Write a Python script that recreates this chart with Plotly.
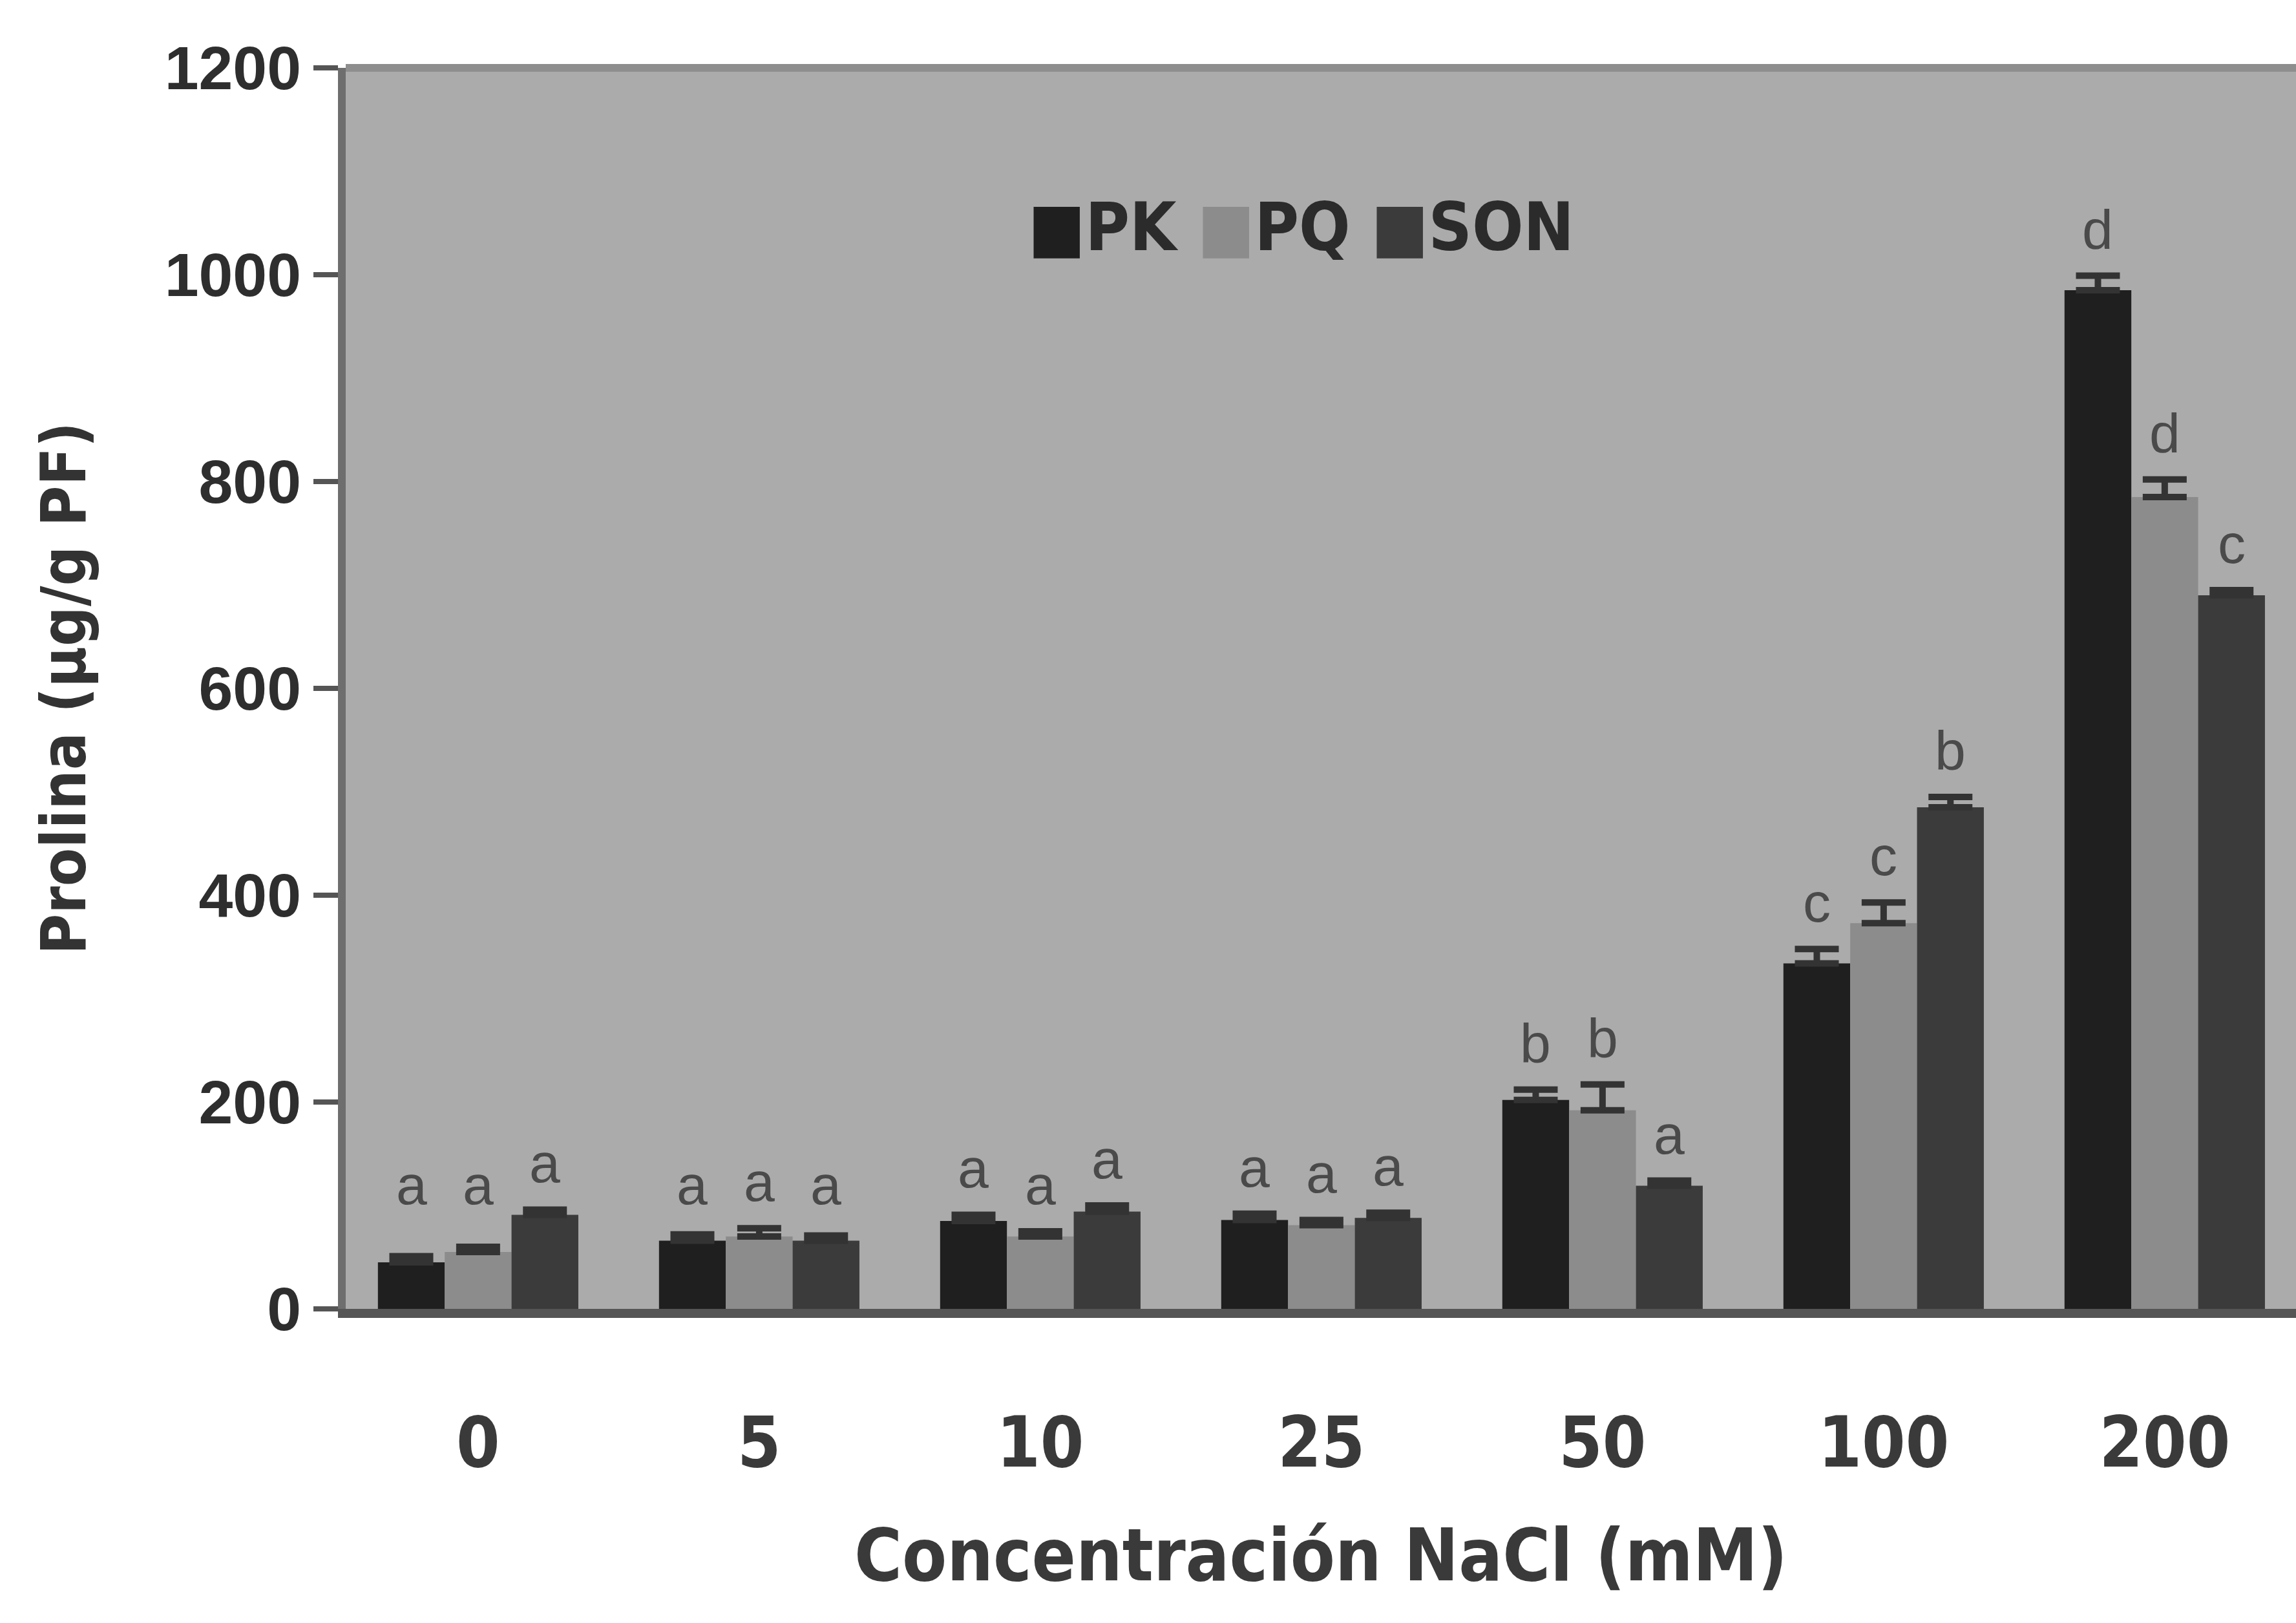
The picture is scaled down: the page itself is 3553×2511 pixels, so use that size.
import plotly.graph_objects as go

# NaCl concentrations (mM) and proline content (µg/g PF) for three cultivars
concentrations = ["0", "5", "10", "25", "50", "100", "200"]
pk_values = [45, 66, 85, 86, 202, 334, 985]
pq_values = [55, 70, 70, 81, 192, 373, 785]
son_values = [91, 66, 94, 88, 119, 485, 690]
pk_err = [6, 6, 6, 6, 10, 14, 14]
pq_err = [5, 8, 5, 5, 25, 20, 17]
son_err = [5, 5, 6, 5, 5, 10, 5]
pk_letters = ["a", "a", "a", "a", "b", "c", "d"]
pq_letters = ["a", "a", "a", "a", "b", "c", "d"]
son_letters = ["a", "a", "a", "a", "a", "b", "c"]

series = [
    ("PK", pk_values, pk_err, pk_letters, "#1f1f1f"),
    ("PQ", pq_values, pq_err, pq_letters, "#8c8c8c"),
    ("SON", son_values, son_err, son_letters, "#3b3b3b"),
]

fig = go.Figure()
for name, vals, errs, letters, color in series:
    fig.add_trace(go.Bar(
        name=name,
        x=concentrations,
        y=vals,
        marker=dict(color=color, line=dict(width=0)),
        error_y=dict(type="data", array=errs, arrayminus=[0] * len(errs),
                     symmetric=False, visible=True,
                     color="#333333", thickness=10, width=34),
        showlegend=False,
    ))

# significance letters above each bar
n_series = len(series)
group_width = 1 - 0.287
bar_w = group_width / n_series
for k, (name, vals, errs, letters, color) in enumerate(series):
    offset = -group_width / 2 + bar_w * (k + 0.5)
    for i, (v, e, lab) in enumerate(zip(vals, errs, letters)):
        fig.add_annotation(
            x=i + offset, y=max(v + e, 75) + 45,
            xref="x", yref="y", text=lab, showarrow=False,
            font=dict(family="Liberation Sans, Arial, sans-serif", size=86, color="#4a4a4a"),
            yanchor="middle", xanchor="center",
        )

# legend drawn as one text line with coloured square glyphs
legend_html = (
    "<span style='color:#1f1f1f'>■</span>PK "
    "<span style='color:#8c8c8c'>■</span>PQ "
    "<span style='color:#3b3b3b'>■</span>SON"
)
fig.add_annotation(
    x=0.49, y=0.872, xref="paper", yref="paper", text=legend_html,
    showarrow=False, xanchor="center", yanchor="middle",
    font=dict(family="Liberation Sans Narrow, DejaVu Sans Condensed, Liberation Sans, sans-serif",
              size=104, color="#2b2b2b", weight="bold"),
)

# top border of the plotting area
fig.add_shape(type="line", xref="paper", yref="paper", x0=0, x1=1, y0=1, y1=1,
              line=dict(color="#8e8e8e", width=12))

fig.update_layout(
    width=3553, height=2511,
    margin=dict(l=535, r=0, t=105, b=486, pad=0),
    paper_bgcolor="white",
    plot_bgcolor="#ababab",
    barmode="group",
    bargap=0.287,
    bargroupgap=0,
    font=dict(family="Liberation Sans, Arial, sans-serif", color="#333333"),
)

fig.update_xaxes(
    type="category",
    range=[-0.471, 6.467],
    showgrid=False,
    showline=True, linecolor="#555555", linewidth=14,
    ticks="outside", ticklen=100, tickcolor="rgba(0,0,0,0)",
    tickfont=dict(family="Liberation Sans Narrow, DejaVu Sans Condensed, Liberation Sans, sans-serif",
                  size=108, color="#3a3a3a", weight="bold"),
    title=dict(text="Concentración NaCl (mM)", standoff=80,
               font=dict(family="Liberation Sans Narrow, DejaVu Sans Condensed, Liberation Sans, sans-serif",
                         size=112, color="#3a3a3a", weight="bold")),
    automargin=False,
)

fig.update_yaxes(
    range=[0, 1200],
    tickvals=[0, 200, 400, 600, 800, 1000, 1200],
    showgrid=False, zeroline=False,
    showline=True, linecolor="#6e6e6e", linewidth=12,
    ticks="outside", ticklen=38, tickwidth=8, tickcolor="#555555",
    tickfont=dict(family="Liberation Sans, Arial, sans-serif", size=95, color="#2e2e2e", weight="bold"),
    title=dict(text="Prolina (µg/g PF)", standoff=95,
               font=dict(family="Liberation Sans Narrow, DejaVu Sans Condensed, Liberation Sans, sans-serif",
                         size=96, color="#333333", weight="bold")),
    automargin=False,
)

fig.write_html("out.html")
